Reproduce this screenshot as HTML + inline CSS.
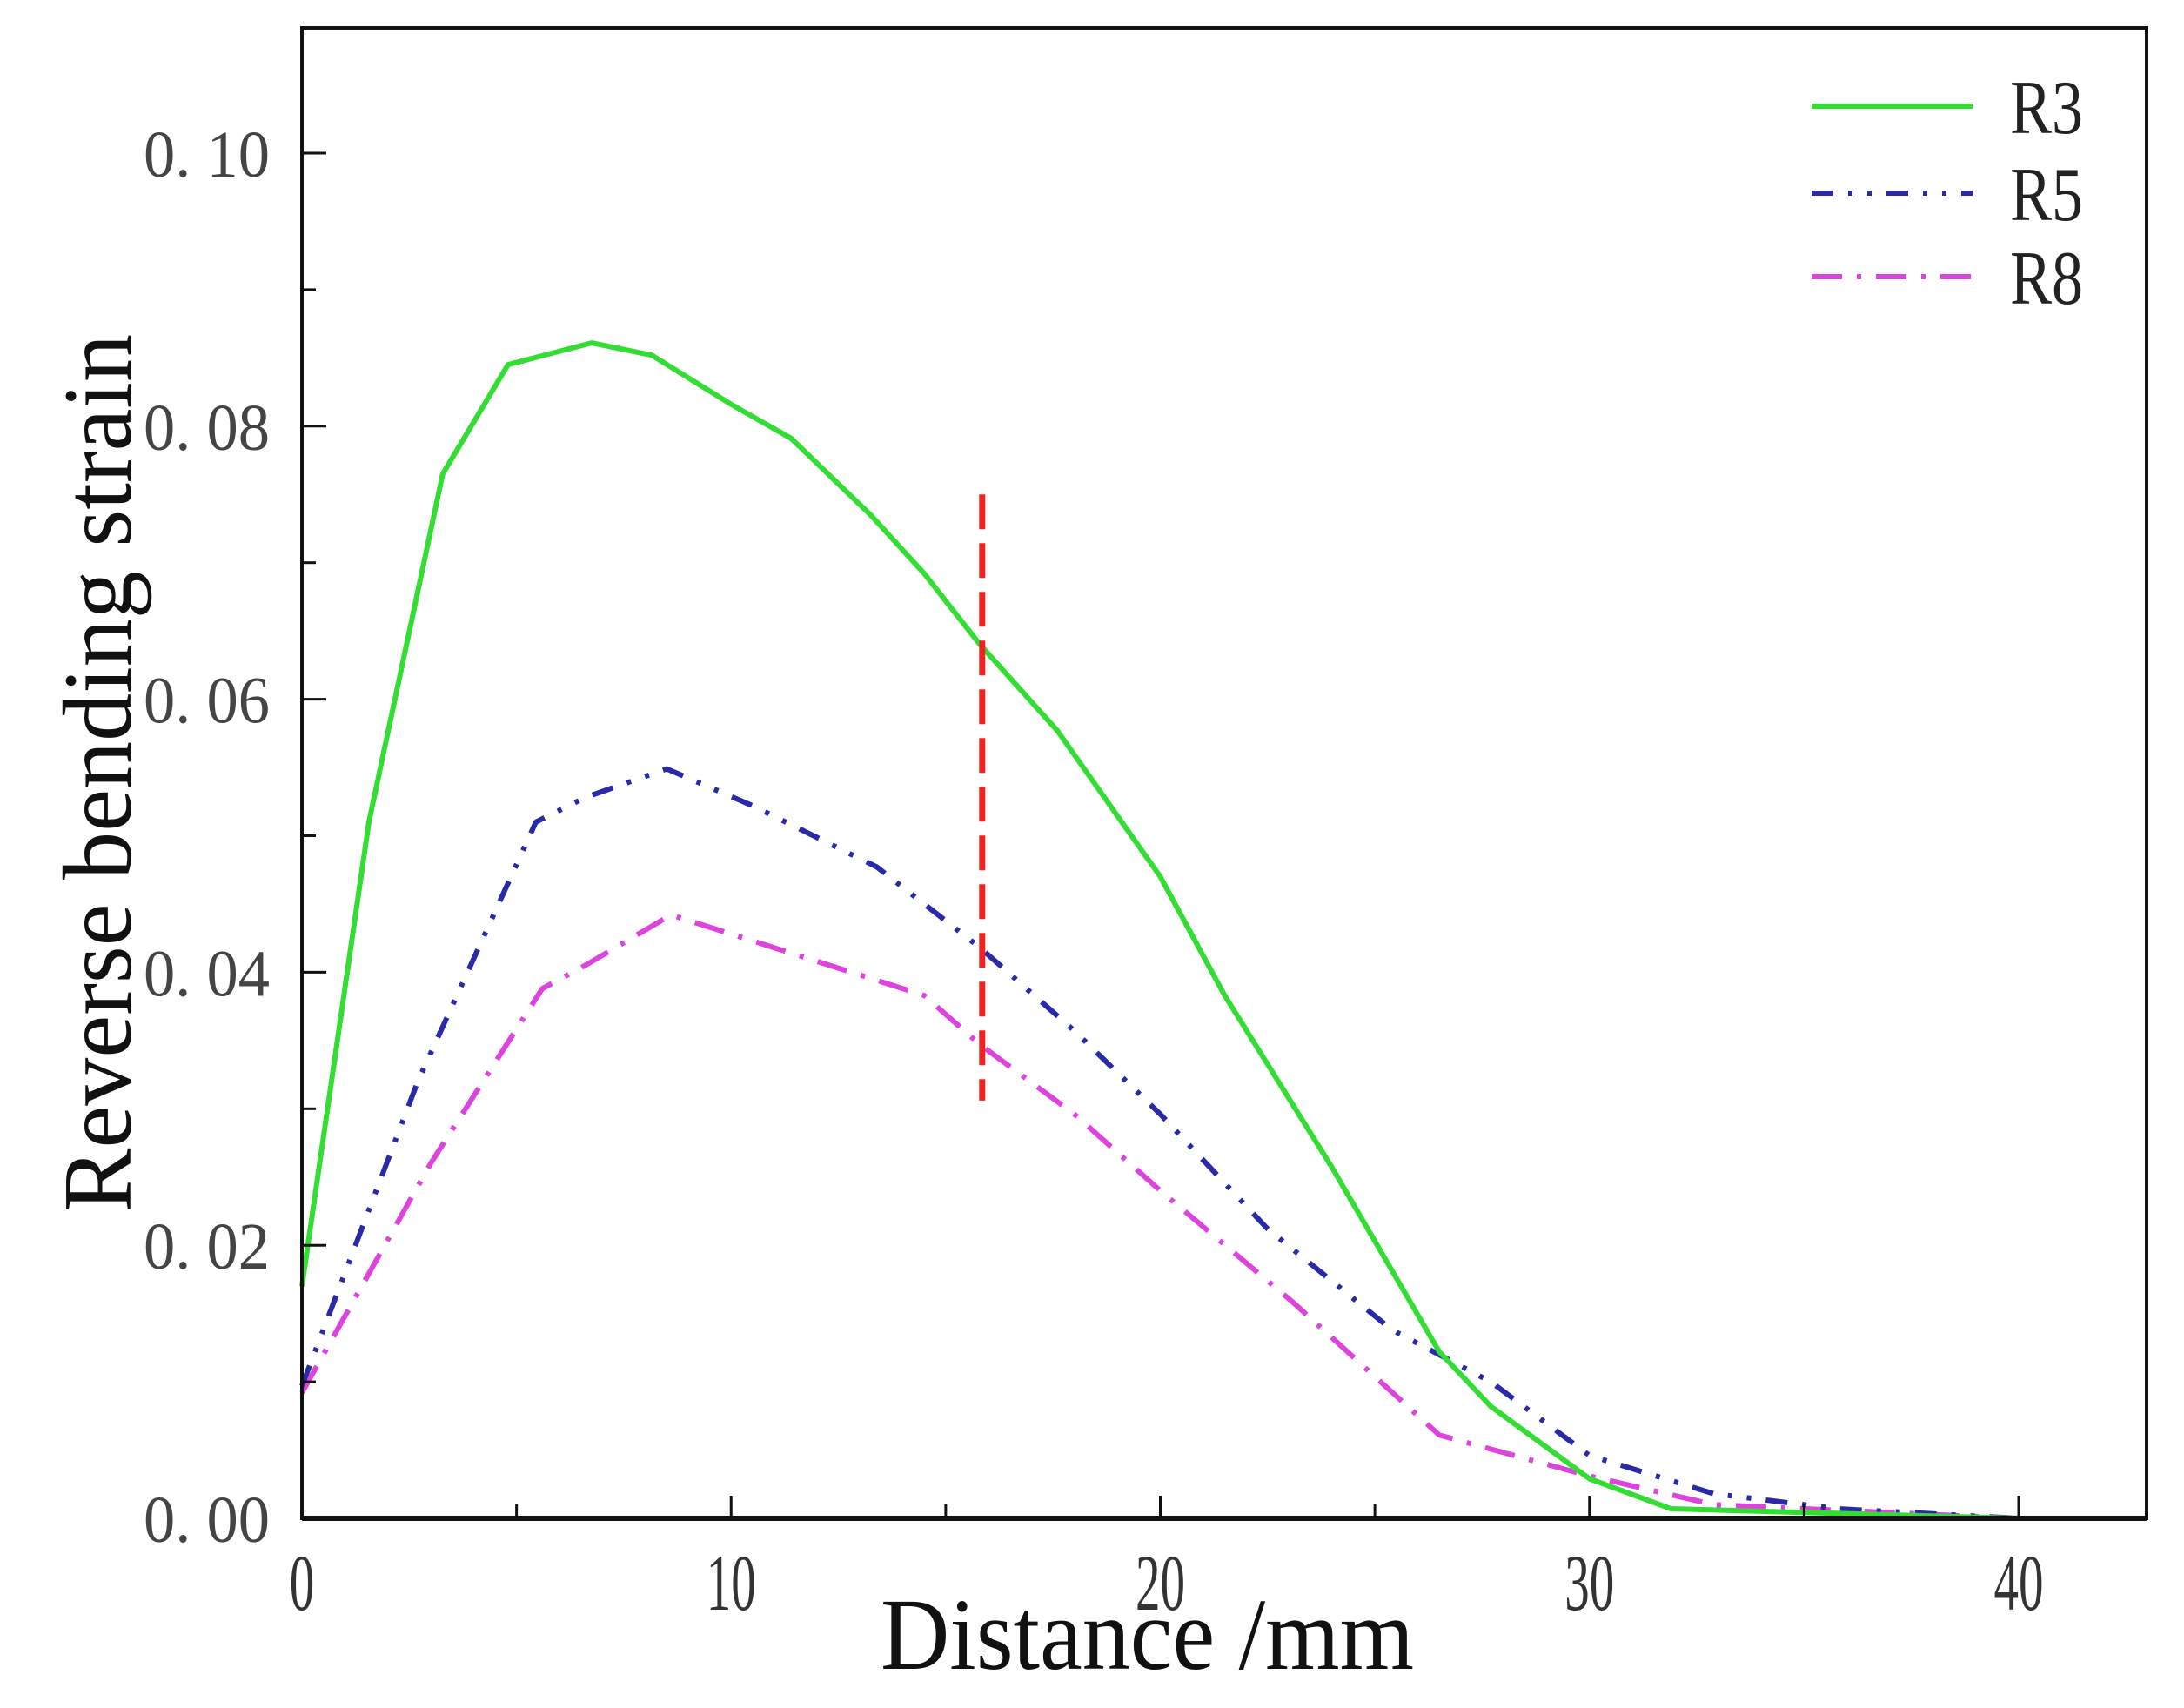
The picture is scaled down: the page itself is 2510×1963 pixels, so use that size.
<!DOCTYPE html>
<html><head><meta charset="utf-8"><style>
html,body{margin:0;padding:0;background:#fff;}
svg{display:block;}
text{font-family:"Liberation Serif",serif;}
</style></head><body>
<svg id="chart" width="2510" height="1963" viewBox="0 0 2510 1963" xmlns="http://www.w3.org/2000/svg">
<g id="plot"></g>
</svg>
<script>
const xTicks=[0,10,20,30,40];
const yTicks=[0,0.02,0.04,0.06,0.08,0.10];
const yTickLabels=["0. 00","0. 02","0. 04","0. 06","0. 08","0. 10"];
const r3X=[0,1.56,3.28,4.8,6.75,8.15,10,11.4,13.25,14.5,15.8,17.6,20,21.5,24,26.5,27.7,30,31.9,40];
const r3Y=[0.017,0.051,0.0765,0.0845,0.0861,0.0852,0.0816,0.0791,0.0735,0.0692,0.064,0.0577,0.047,0.0383,0.0257,0.0122,0.0082,0.0029,0.0007,0];
const r5X=[0,2.7,5.45,6.6,8.5,10.5,13.4,15.8,18,20,22.5,25.4,27.7,30,32.9,35.8,40];
const r5Y=[0.0097,0.032,0.051,0.0528,0.0549,0.0522,0.0477,0.0418,0.0357,0.0296,0.0212,0.0138,0.01,0.0046,0.0018,0.0007,0];
const r8X=[0,3,5.6,6.6,8.6,10.5,14.5,15.8,18,20,23.1,26.5,30,32.9,40];
const r8Y=[0.0092,0.026,0.0388,0.0405,0.0442,0.0423,0.0383,0.0347,0.0296,0.024,0.0158,0.0061,0.0031,0.001,0];
const markerX=[15.85];
const markerY=[0.0306,0.075];

const L=347,R=2467,T=32,B=1745;
const sx=v=>347+v*(2320-347)/40;
const sy=v=>1745-v*(1745-176)/0.1;
const NS="http://www.w3.org/2000/svg";
const g=document.getElementById('plot');
function mk(tag,attrs,parent){const e=document.createElementNS(NS,tag);for(const k in attrs)e.setAttribute(k,attrs[k]);(parent||g).appendChild(e);return e;}

function series(xs,ys,color,dash,name){
  const p=mk('polyline',{points:xs.map((x,i)=>sx(x)+','+sy(ys[i])).join(' '),fill:'none',stroke:color,'stroke-width':6,'stroke-dasharray':dash,'stroke-linejoin':'round'});
  
  
}
series(r8X,r8Y,'#dd44dd','35 17 5 17','series-r8');
series(r5X,r5Y,'#2a2aa8','25 17 5 17 5 17','series-r5');
series(r3X,r3Y,'#33dd33','none','series-r3');
const vm=mk('line',{x1:sx(markerX[0]),x2:sx(markerX[0]),y1:sy(markerY[1]),y2:sy(markerY[0]),stroke:'#ee2222','stroke-width':7,'stroke-dasharray':'40 16'});



const fr=mk('rect',{x:L,y:T,width:R-L,height:B-T,fill:'none',stroke:'#111','stroke-width':4});


const bl=mk('line',{x1:L,x2:R,y1:B,y2:B,stroke:'#111','stroke-width':6});


for(let v=0;v<=40;v+=5){const major=v%10===0;
  const t=mk('line',{x1:sx(v),x2:sx(v),y1:B,y2:B-(major?26:16),stroke:'#111','stroke-width':3});
  
  }
xTicks.forEach(v=>{const t=mk('text',{x:sx(v),y:1850,'font-size':92,'text-anchor':'middle',fill:'#333',transform:`translate(${sx(v)},0) scale(0.62,1) translate(${-sx(v)},0)`});t.textContent=String(v);
  
  });
for(let i=0;i<=10;i++){const v=i*0.01;const major=i%2===0;
  const t=mk('line',{x1:L,x2:L+(major?28:16),y1:sy(v),y2:sy(v),stroke:'#111','stroke-width':3});
  
  }
yTicks.forEach((v,i)=>{const t=mk('text',{x:165,y:sy(v)+27,'font-size':76,fill:'#444',textLength:145,lengthAdjust:'spacingAndGlyphs'});t.textContent=yTickLabels[i];
  
  });
const xt=mk('text',{x:1012,y:1918,'font-size':118,fill:'#111',textLength:613,lengthAdjust:'spacingAndGlyphs'});xt.textContent='Distance /mm';


const yt=mk('text',{x:0,y:0,'font-size':112,fill:'#111',textLength:1009,lengthAdjust:'spacingAndGlyphs',transform:'translate(150,1393) rotate(-90)'});yt.textContent='Reverse bending strain';


const legNames=['R3','R5','R8'];
const legColors=['#33dd33','#2a2aa8','#dd44dd'];
const legDash=['none','25 17 5 17 5 17','35 17 5 17'];
const legY=[122,222,318];
legNames.forEach((n,i)=>{
  const l=mk('line',{x1:2082,x2:2267,y1:legY[i],y2:legY[i],stroke:legColors[i],'stroke-width':6,'stroke-dasharray':legDash[i]});
  
  
  const t=mk('text',{x:2310,y:legY[i]+31,'font-size':88,fill:'#222',textLength:84,lengthAdjust:'spacingAndGlyphs'});t.textContent=n;
  
  
});
</script>
</body></html>
